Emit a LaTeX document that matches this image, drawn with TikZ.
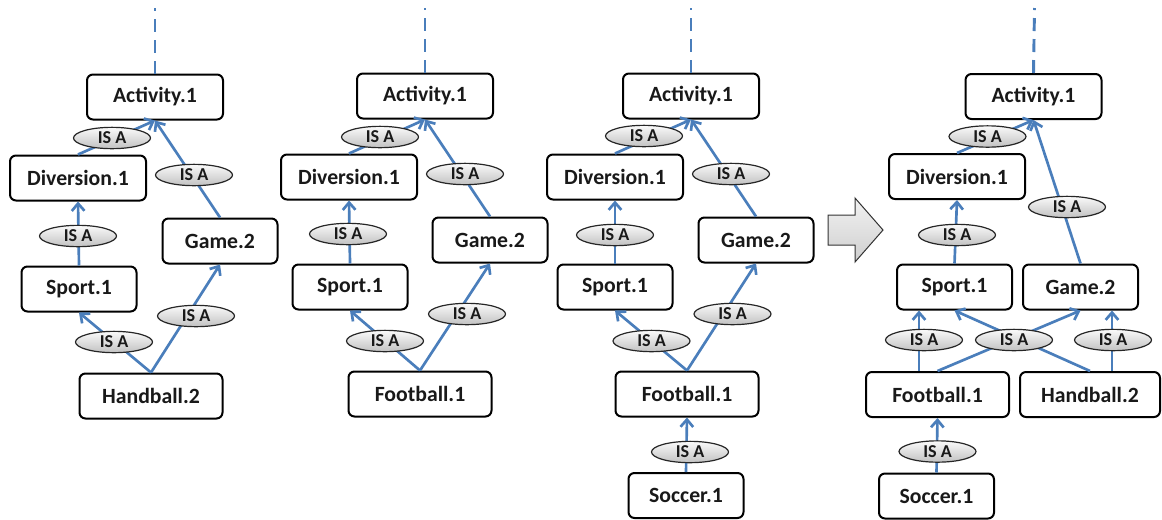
\documentclass[tikz,border=0pt]{standalone}
\usepackage{fontspec}
\setmainfont{Carlito}
\usetikzlibrary{shapes.geometric,arrows.meta,calc}
\definecolor{linkblue}{HTML}{4A7EBB}
\tikzset{
  concept/.style={draw=black, line width=1.5pt, rounded corners=4.5pt, fill=white,
    minimum height=33.75pt, inner sep=0pt, text=black!90,
    font=\bfseries\fontsize{16.3}{18}\selectfont},
  wA/.style={minimum width=102pt},
  wG/.style={minimum width=86.25pt},
  wF/.style={minimum width=107.25pt},
  isa/.style={ellipse, draw=black!85, line width=0.9pt, top color=gray!4, bottom color=gray!48,
    minimum width=57.75pt, minimum height=16pt, inner sep=0pt, text=black!90,
    font=\bfseries\fontsize{13.6}{15}\selectfont},
  link/.style={draw=linkblue, line width=2pt,
    -{Straight Barb[length=5.5pt,width=9.5pt]}},
  upward/.style={draw=linkblue, line width=2.2pt, dash pattern=on 9.75pt off 6pt},
  bigarrow/.style={draw=black!80, line width=0.75pt, top color=gray!10, bottom color=gray!38},
}
\begin{document}
\begin{tikzpicture}[x=0.75pt, y=-0.75pt]
\useasboundingbox (0,0) rectangle (1162,519);

% ---------- hierarchy for Handball.2 ----------
\begin{scope}[shift={(155,97)}, name prefix=p1-]
  \node[concept,wA] (act) at (0,0) {Activity.1};
  \node[concept,wA] (div) at (-77,81) {Diversion.1};
  \node[concept,wG] (game) at (65,144) {Game.2};
  \node[concept,wG] (sport) at (-76,192) {Sport.1};
  \node[concept,wF] (base) at (-4,299) {Handball.2};
  \coordinate (top) at (0,-89);
  \draw[upward] (act.north) -- (top);
  \draw[link] (div.north) -- (act.south);
  \draw[link] (game.north) -- (act.south);
  \draw[link] (sport.north) -- (div.south);
  \draw[link] (base.north) -- (sport.south);
  \draw[link] (base.north) -- (game.south);
  \node[isa] (isa-da) at (-43,41) {IS A};
  \node[isa] (isa-ga) at (39,78) {IS A};
  \node[isa] (isa-sd) at (-77,139) {IS A};
  \node[isa] (isa-bs) at (-41,245) {IS A};
  \node[isa] (isa-bg) at (41,219) {IS A};
\end{scope}

% ---------- hierarchy for Football.1 ----------
\begin{scope}[shift={(425,96)}, name prefix=p2-]
  \node[concept,wA] (act) at (0,0) {Activity.1};
  \node[concept,wA] (div) at (-76,81) {Diversion.1};
  \node[concept,wG] (game) at (65,144) {Game.2};
  \node[concept,wG] (sport) at (-75,191) {Sport.1};
  \node[concept,wF] (base) at (-5,298) {Football.1};
  \coordinate (top) at (0,-88);
  \draw[upward] (act.north) -- (top);
  \draw[link] (div.north) -- (act.south);
  \draw[link] (game.north) -- (act.south);
  \draw[link] (sport.north) -- (div.south);
  \draw[link] (base.north) -- (sport.south);
  \draw[link] (base.north) -- (game.south);
  \node[isa] (isa-da) at (-45,41) {IS A};
  \node[isa] (isa-ga) at (40,78) {IS A};
  \node[isa] (isa-sd) at (-77,138) {IS A};
  \node[isa] (isa-bs) at (-40,245) {IS A};
  \node[isa] (isa-bg) at (42,218) {IS A};
\end{scope}

% ---------- hierarchy for Soccer.1 ----------
\begin{scope}[shift={(691,96)}, name prefix=p3-]
  \node[concept,wA] (act) at (0,0) {Activity.1};
  \node[concept,wA] (div) at (-76,81) {Diversion.1};
  \node[concept,wG] (game) at (65,144) {Game.2};
  \node[concept,wG] (sport) at (-76,191) {Sport.1};
  \node[concept,wF] (base) at (-4,298) {Football.1};
  \node[concept,wG] (leaf) at (-5,399.5) {Soccer.1};
  \coordinate (top) at (0,-88);
  \draw[upward] (act.north) -- (top);
  \draw[link] (div.north) -- (act.south);
  \draw[link] (game.north) -- (act.south);
  \draw[link] (sport.north) -- (div.south);
  \draw[link] (base.north) -- (sport.south);
  \draw[link] (base.north) -- (game.south);
  \draw[link] (leaf.north) -- (base.south);
  \node[isa] (isa-da) at (-47,40) {IS A};
  \node[isa] (isa-ga) at (40,78) {IS A};
  \node[isa] (isa-sd) at (-76,139) {IS A};
  \node[isa] (isa-bs) at (-39.5,245) {IS A};
  \node[isa] (isa-bg) at (41.5,218) {IS A};
  \node[isa] (isa-lb) at (-1,356) {IS A};
\end{scope}

% ---------- transition arrow ----------
\draw[bigarrow] (828,215) -- (855,215) -- (855,198) -- (883,230)
  -- (855,262) -- (855,245) -- (828,245) -- cycle;

% ---------- merged hierarchy ----------
\node[concept,wA] (m-act) at (1033.5,96.5) {Activity.1};
\node[concept,wA] (m-div) at (957,176.5) {Diversion.1};
\node[concept,wG] (m-sport) at (954.5,287) {Sport.1};
\node[concept,wG] (m-game) at (1080.5,287) {Game.2};
\node[concept,wF] (m-fb) at (937.5,394.5) {Football.1};
\node[concept,minimum width=105pt] (m-hb) at (1090,394.5) {Handball.2};
\node[concept,wG] (m-soc) at (936.5,496) {Soccer.1};
\coordinate (m-top) at (1034.5,8);
\coordinate (m-fsx) at (919,0);
\coordinate (m-hgx) at (1112,0);
\draw[upward] (m-act.north) -- (m-top);
\draw[link] (m-div.north) -- (m-act.south);
\draw[link] (m-game.north) -- (m-act.south);
\draw[link] (m-sport.north) -- (m-div.south);
\draw[link] (m-fsx |- m-fb.north) -- (m-fsx |- m-sport.south);
\draw[link] (m-fb.north) -- (m-game.south);
\draw[link] (m-hb.north) -- (m-sport.south);
\draw[link] (m-hgx |- m-hb.north) -- (m-hgx |- m-game.south);
\draw[link] (m-soc.north) -- (m-fb.south);
\node[isa] (m-isa-da) at (987.5,136.5) {IS A};
\node[isa] (m-isa-ga) at (1067,207) {IS A};
\node[isa] (m-isa-sd) at (957,235) {IS A};
\node[isa] (m-isa-fs) at (924,340) {IS A};
\node[isa] (m-isa-x) at (1014,340) {IS A};
\node[isa] (m-isa-hg) at (1113,340) {IS A};
\node[isa] (m-isa-sf) at (937.5,451.5) {IS A};
\end{tikzpicture}
\end{document}
